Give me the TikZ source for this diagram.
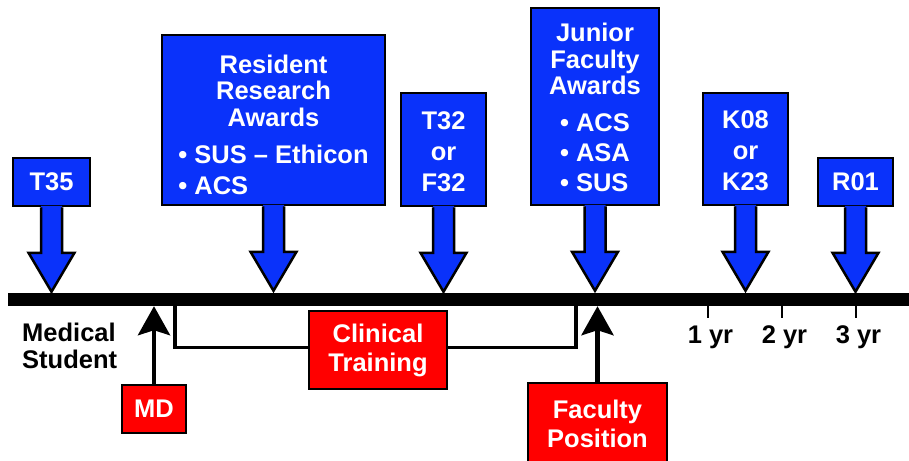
\documentclass[tikz,border=0pt]{standalone}
\usepackage{fontspec}
\setmainfont{Liberation Sans}
\usetikzlibrary{arrows.meta}
\definecolor{awblue}{RGB}{10,50,250}
\definecolor{awred}{RGB}{255,0,0}
\newcommand\dfont{\fontsize{25.5}{26.5}\selectfont\bfseries}
\tikzset{
  awbox/.style={draw=black, line width=2.5pt, fill=awblue, text=white, font=\dfont, align=center, inner sep=0pt},
  redbox/.style={draw=black, line width=2.5pt, fill=awred, text=white, font=\dfont, align=center, inner sep=0pt},
  lbl/.style={text=black, font=\dfont, inner sep=0pt},
  barstyle/.style={fill=black, draw=none, inner sep=0pt, minimum width=901pt, minimum height=13pt},
  uparr/.style={line width=4.5pt, -{Stealth[length=29pt,width=32pt,inset=5pt]}},
  bracket/.style={line width=3.5pt, line join=miter},
  tickline/.style={line width=2.5pt},
  awline/.style={draw=black, line width=2.5pt, line join=miter, miter limit=10},
}
\newcommand\awardarrow[1]{%
  \fill[awblue] (#1.south) ++(-10.5,-1.5) -- ++(0,47) -- ++(-12.5,0) -- ++(23,39) -- ++(23,-39) -- ++(-12.5,0) -- ++(0,-47) -- cycle;
  \draw[awline] (#1.south) ++(-10.5,0) -- ++(0,45.5) -- ++(-12.5,0) -- ++(23,39) -- ++(23,-39) -- ++(-12.5,0) -- ++(0,-45.5);
}
\begin{document}
\begin{tikzpicture}[x=1pt,y=-1pt]
\clip (0,0) rectangle (909,460);
\fill[white] (0,0) rectangle (909,460);

% timeline bar
\node[barstyle] (bar) at (458.5,299.5) {};

% award boxes
\node[awbox, minimum width=77pt, minimum height=48pt] (t35) at (51.5,182) {T35};
\node[awbox, minimum width=223pt, minimum height=170pt] (rra) at (273.5,120)
  {\rule{0pt}{28pt}Resident\\Research\\Awards\\[10.5pt]• SUS – Ethicon\\[4.5pt]\rlap{• ACS}\phantom{• SUS – Ethicon}};
\node[awbox, minimum width=85pt, minimum height=113pt] (t32) at (443.5,149.5) {\rule{0pt}{21.5pt}T32\\[4.5pt]or\\[4.5pt]F32};
\node[awbox, minimum width=128pt, minimum height=197pt] (jfa) at (595,106.5)
  {\rule{0pt}{20.5pt}Junior\\Faculty\\Awards\\[10.5pt]\rlap{• ACS}\phantom{• ASA}\\[3.5pt]• ASA\\[3.5pt]\rlap{• SUS}\phantom{• ASA}};
\node[awbox, minimum width=85pt, minimum height=112pt] (k08) at (745.5,149) {\rule{0pt}{21.5pt}K08\\[4.5pt]or\\[4.5pt]K23};
\node[awbox, minimum width=75pt, minimum height=48pt] (r01) at (855.5,182) {R01};

\awardarrow{t35}
\awardarrow{rra}
\awardarrow{t32}
\awardarrow{jfa}
\awardarrow{k08}
\awardarrow{r01}

% labels below bar
\node[lbl, align=left, anchor=north west] (med) at (22,323) {Medical\\Student};

% ticks and years
\foreach \x/\lab in {708/1, 782/2, 856/3} {
  \coordinate (tk\lab) at (\x,306);
  \draw[tickline] (tk\lab) -- ++(0,12);
  \node[lbl, anchor=base] (yr\lab) at (\x+2.5,343) {\lab\ yr};
}

% red boxes
\node[redbox, minimum width=64pt, minimum height=48pt] (md) at (154,409) {MD};
\node[redbox, minimum width=138pt, minimum height=78pt] (clin) at (378,350) {Clinical\\[2.5pt]Training};
\node[redbox, minimum width=139pt, minimum height=82pt] (fac) at (597.5,424) {Faculty\\[2pt]Position};

% up arrows
\draw[uparr] (md.north) -- (md.north |- bar.south);
\draw[uparr] (fac.north) -- (fac.north |- bar.south);

% clinical training bracket
\coordinate (cl) at (175,306);
\coordinate (cr) at (576,306);
\draw[bracket] (cl) |- ([yshift=2.5pt]clin.west);
\draw[bracket] (cr) |- ([yshift=2.5pt]clin.east);
\end{tikzpicture}
\end{document}
